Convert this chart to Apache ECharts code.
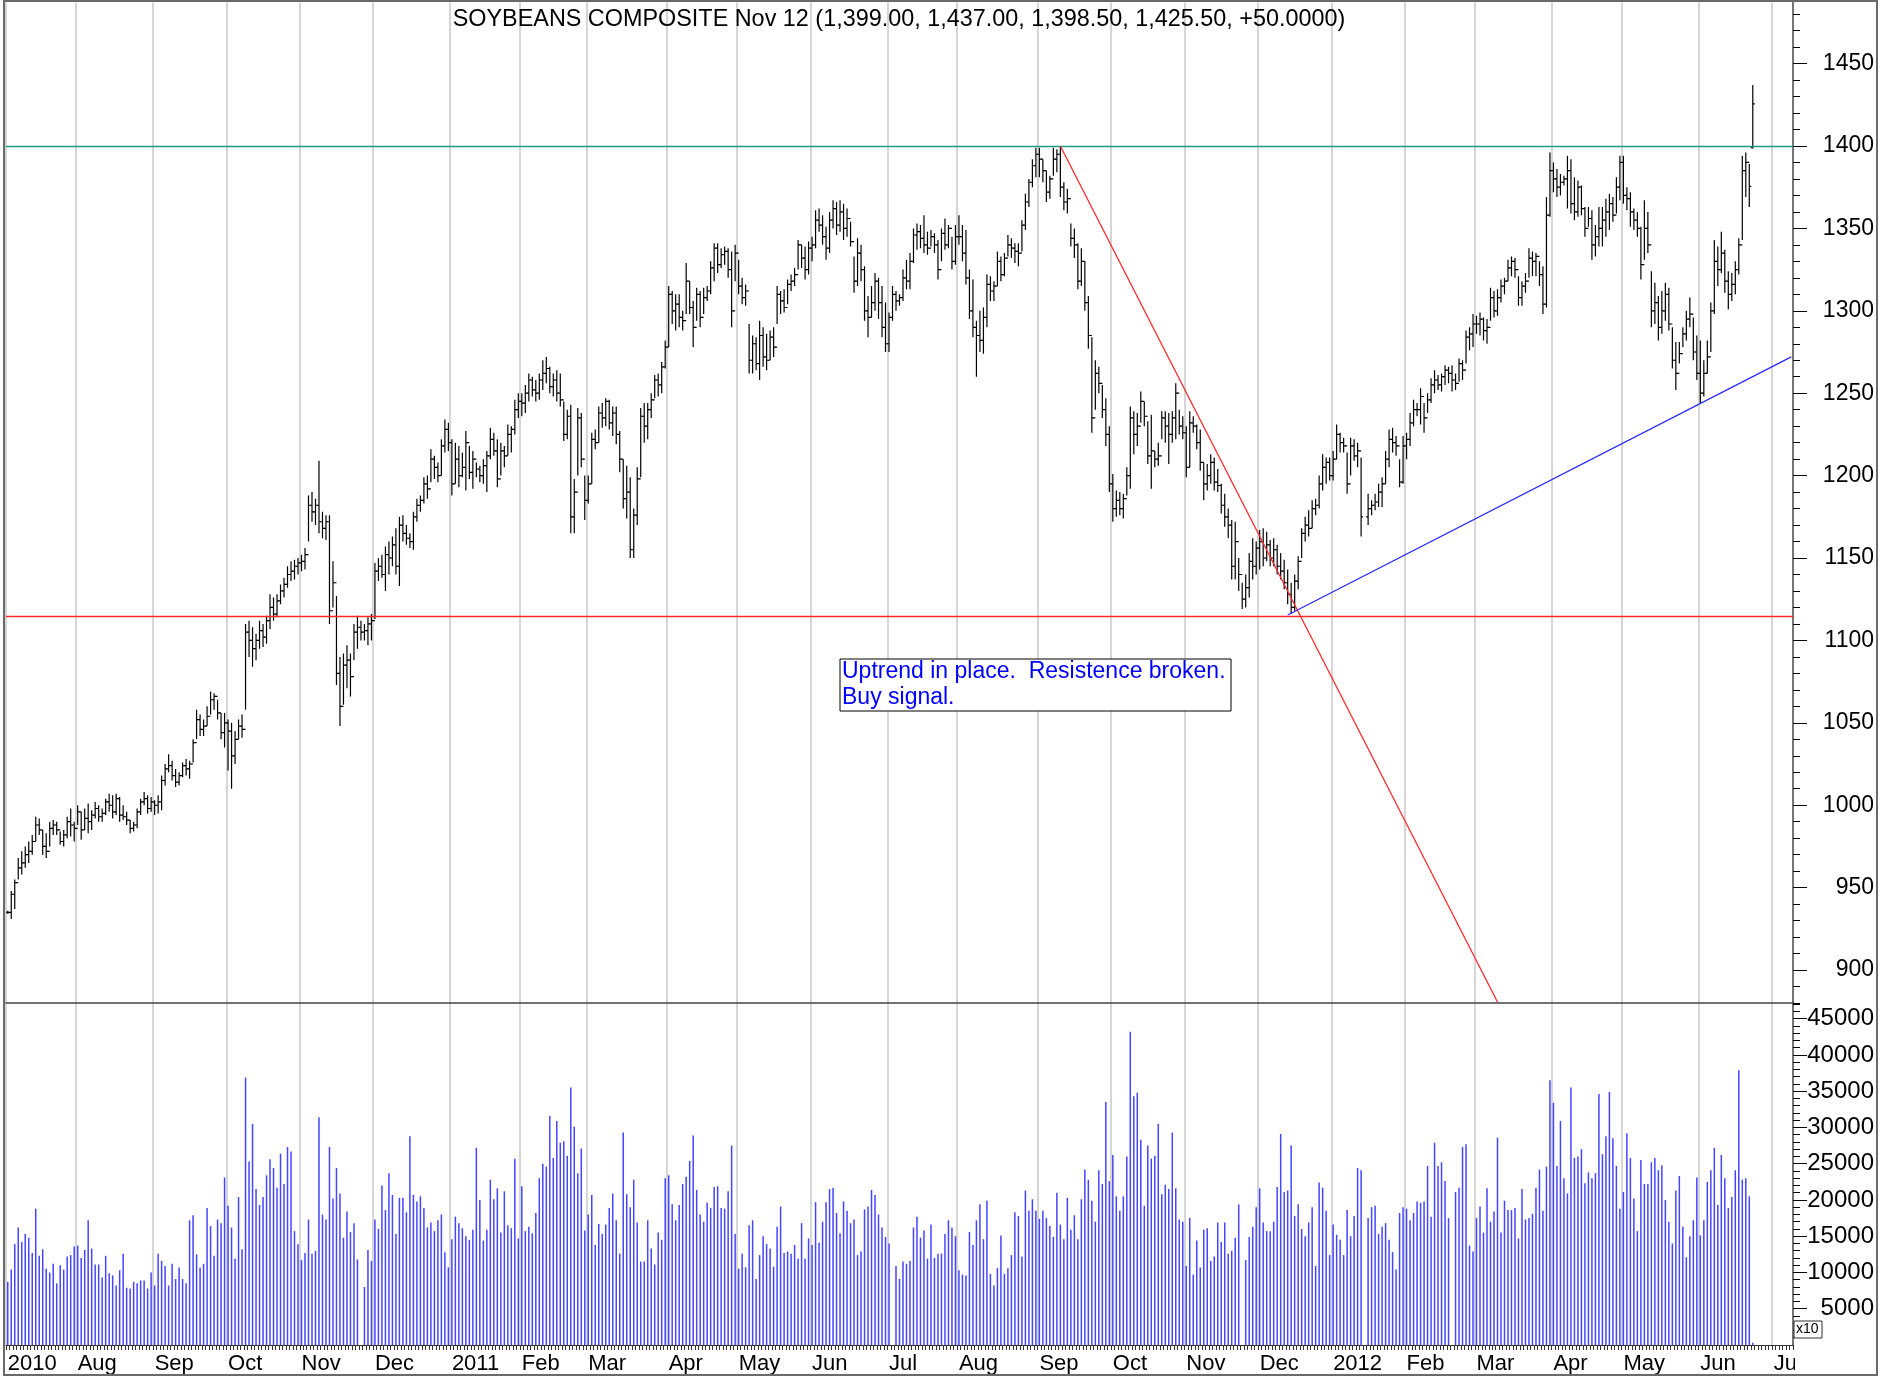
<!DOCTYPE html>
<html>
<head>
<meta charset="utf-8">
<script src="https://cdn.jsdelivr.net/npm/echarts@6/dist/echarts.min.js"></script>
<style>
  html, body { margin: 0; padding: 0; background: #fff; }
  #chart { width: 1902px; height: 1377px; }
</style>
</head>
<body>
<div id="chart"></div>
<script>
// daily bars per month: [high, low, close] (open = previous close unless a 4th value is given)
const jul10 = [[936,934,935], [948,931,946], [955,937,953], [968,955,962], [972,958,965], [975,962,970], [978,965,972], [982,970,978], [993,978,988], [992,982,985], [985,970,975], [983,968,972], [990,975,986], [991,982,988], [990,982,985], [984,976,978], [985,975,982], [993,980,990], [998,981,988], [990,978,986]];
const aug10 = [[1000,988,996], [996,979,985], [998,985,992], [1001,983,990], [997,985,994], [1002,992,998], [1000,990,993], [998,990,995], [1004,994,1002], [1007,996,1000], [1006,992,996], [1007,994,1004], [1005,990,994], [1000,991,993], [996,988,991], [991,983,986], [990,984,988], [998,986,996], [1004,994,1002], [1008,1000,1004], [1006,995,998], [1005,996,1002]];
const sep10 = [[1003,994,1000], [1006,995,1002], [1018,997,1015], [1025,1012,1022], [1031,1020,1024], [1027,1015,1018], [1022,1011,1014], [1020,1012,1018], [1026,1017,1024], [1028,1018,1022], [1027,1016,1025], [1040,1026,1038], [1058,1040,1052], [1055,1042,1046], [1052,1042,1048], [1060,1048,1054], [1069,1055,1064], [1068,1058,1066], [1064,1052,1056], [1056,1040,1044], [1056,1035,1050]];
const oct10 = [[1052,1021,1045], [1050,1010,1030], [1045,1025,1040], [1052,1040,1048], [1055,1041,1046], [1110,1058,1105], [1112,1090,1100], [1108,1084,1095], [1104,1088,1100], [1112,1095,1106], [1110,1096,1102], [1115,1098,1112], [1128,1107,1120], [1126,1112,1116], [1128,1114,1124], [1134,1122,1130], [1138,1126,1134], [1145,1132,1140], [1148,1136,1142], [1149,1137,1145], [1150,1140,1147]];
const nov10 = [[1152,1142,1148], [1156,1143,1152], [1188,1160,1182], [1190,1172,1178], [1186,1170,1182], [1209,1165,1172], [1178,1162,1168], [1176,1161,1172], [1176,1110,1118], [1148,1120,1135], [1127,1073,1080], [1090,1048,1060], [1092,1061,1085], [1097,1071,1088], [1092,1066,1078], [1110,1088,1105], [1115,1095,1108], [1112,1100,1105], [1110,1100,1106], [1114,1097,1110], [1116,1100,1112]];
const dec10 = [[1147,1113,1142], [1150,1136,1145], [1152,1138,1140], [1157,1130,1152], [1160,1140,1150], [1163,1145,1158], [1168,1140,1145], [1175,1133,1170], [1176,1160,1165], [1170,1158,1162], [1165,1156,1160], [1178,1155,1175], [1186,1172,1182], [1188,1178,1185], [1199,1183,1195], [1200,1186,1192], [1216,1196,1210], [1212,1198,1205], [1208,1196,1200], [1222,1200,1218], [1234,1214,1228], [1232,1215,1220]];
const jan11 = [[1222,1188,1195], [1220,1195,1210], [1218,1193,1200], [1214,1199,1205], [1227,1191,1220], [1218,1198,1202], [1215,1192,1210], [1208,1199,1204], [1206,1196,1200], [1210,1195,1206], [1215,1190,1212], [1229,1210,1222], [1226,1212,1215], [1222,1193,1198], [1220,1200,1215], [1218,1205,1212], [1231,1212,1225], [1230,1214,1228], [1246,1225,1240], [1250,1235,1245]];
const feb11 = [[1250,1236,1244], [1255,1238,1250], [1262,1245,1258], [1260,1248,1252], [1258,1245,1250], [1262,1246,1258], [1270,1252,1262], [1272,1256,1265], [1266,1250,1254], [1262,1248,1258], [1264,1245,1250], [1262,1242,1246], [1245,1221,1225], [1240,1222,1236], [1243,1165,1175], [1198,1165,1190], [1241,1200,1235], [1238,1205,1210], [1200,1173,1185]];
const mar11 = [[1200,1183,1195], [1226,1195,1222], [1228,1216,1220], [1242,1220,1238], [1244,1229,1235], [1247,1230,1245], [1246,1228,1232], [1242,1224,1238], [1242,1219,1225], [1227,1202,1210], [1210,1180,1186], [1206,1174,1190], [1199,1150,1155], [1180,1150,1176], [1205,1170,1198], [1241,1199,1236], [1244,1220,1230], [1244,1222,1240], [1250,1235,1246], [1261,1247,1258], [1262,1248,1255], [1269,1250,1266], [1282,1265,1278]];
const apr11 = [[1315,1278,1310], [1312,1292,1300], [1310,1288,1304], [1310,1290,1296], [1300,1288,1294], [1329,1298,1318], [1318,1298,1302], [1306,1278,1290], [1314,1294,1310], [1312,1290,1296], [1314,1298,1308], [1315,1306,1312], [1330,1310,1326], [1341,1318,1338], [1341,1323,1328], [1338,1326,1334], [1339,1328,1336], [1338,1320,1325], [1336,1290,1300], [1340,1318,1335]];
const may11 = [[1331,1310,1315], [1320,1304,1308], [1316,1303,1312], [1292,1262,1270], [1285,1262,1280], [1284,1264,1268], [1294,1258,1285], [1290,1266,1272], [1286,1264,1270], [1288,1270,1284], [1290,1272,1278], [1315,1292,1310], [1312,1298,1306], [1313,1299,1302], [1319,1304,1316], [1322,1312,1318], [1326,1315,1322], [1343,1325,1340], [1340,1326,1332], [1339,1319,1325], [1342,1322,1338]];
const jun11 = [[1345,1330,1340], [1361,1338,1355], [1362,1348,1352], [1358,1340,1345], [1351,1331,1338], [1360,1335,1355], [1367,1350,1362], [1366,1346,1352], [1367,1348,1360], [1365,1343,1350], [1362,1345,1356], [1354,1339,1342], [1333,1311,1318], [1344,1315,1335], [1340,1318,1325], [1327,1294,1300], [1309,1284,1296], [1315,1296,1305], [1323,1300,1318], [1320,1295,1305], [1315,1284,1290], [1305,1275,1280]];
const jul11 = [[1299,1275,1296], [1315,1294,1310], [1312,1300,1306], [1310,1303,1308], [1325,1306,1320], [1331,1313,1318], [1335,1313,1330], [1350,1329,1346], [1353,1337,1348], [1352,1338,1344], [1358,1335,1340], [1348,1334,1338], [1349,1339,1345], [1347,1335,1340], [1343,1319,1325], [1350,1330,1347], [1356,1337,1340], [1352,1338,1350], [1345,1325,1330], [1352,1328,1345]];
const aug11 = [[1358,1340,1345], [1352,1330,1335], [1349,1316,1320], [1325,1295,1300], [1319,1284,1290], [1294,1260,1285], [1300,1275,1282], [1302,1274,1296], [1322,1290,1316], [1321,1306,1312], [1318,1306,1315], [1336,1315,1330], [1333,1318,1322], [1335,1321,1332], [1346,1333,1340], [1344,1332,1338], [1341,1329,1336], [1341,1327,1335], [1355,1336,1352], [1371,1349,1366], [1380,1363,1378], [1392,1375,1388], [1399,1381,1395]];
const sep11 = [[1399,1381,1392], [1392,1378,1385], [1385,1366,1372], [1382,1368,1380], [1399,1382,1392], [1398,1384,1395], [1400,1369,1375], [1378,1361,1366], [1374,1359,1368], [1353,1339,1344], [1350,1332,1340], [1341,1313,1318], [1338,1315,1330], [1330,1300,1305], [1309,1277,1285], [1284,1226,1235], [1270,1240,1262], [1266,1250,1256], [1255,1235,1240], [1247,1218,1225], [1230,1190,1195]];
const oct11 = [[1201,1172,1180], [1191,1175,1185], [1190,1176,1180], [1189,1174,1186], [1205,1188,1200], [1242,1192,1235], [1239,1213,1225], [1238,1218,1230], [1251,1232,1245], [1245,1230,1236], [1233,1207,1212], [1237,1192,1215], [1215,1205,1210], [1220,1206,1212], [1239,1222,1235], [1239,1220,1230], [1238,1207,1225], [1239,1220,1235], [1256,1222,1250], [1240,1225,1230], [1236,1222,1226]];
const nov11 = [[1230,1199,1205], [1239,1205,1232], [1236,1226,1230], [1231,1216,1220], [1228,1203,1208], [1208,1185,1195], [1207,1191,1200], [1213,1195,1208], [1211,1191,1196], [1204,1190,1194], [1195,1177,1182], [1189,1169,1175], [1180,1162,1170], [1173,1137,1145], [1172,1137,1160], [1150,1130,1140], [1135,1119,1125], [1140,1120,1132], [1153,1126,1148], [1162,1137,1145], [1160,1140,1156]];
const dec11 = [[1167,1143,1160], [1168,1145,1150], [1166,1148,1158], [1161,1145,1150], [1162,1145,1155], [1158,1140,1145], [1153,1137,1142], [1149,1131,1135], [1143,1122,1128], [1135,1116,1120], [1140,1118,1136], [1151,1131,1148], [1168,1150,1165], [1175,1160,1170], [1179,1163,1168], [1185,1168,1180], [1186,1176,1182], [1200,1180,1195], [1213,1191,1205], [1211,1195,1208], [1211,1197,1200]];
const jan12 = [[1215,1197,1210], [1231,1210,1225], [1226,1214,1220], [1223,1214,1218], [1214,1189,1195], [1223,1200,1218], [1222,1209,1212], [1220,1205,1215], [1211,1163,1175], null, [1189,1170,1180], [1185,1176,1182], [1189,1179,1184], [1195,1181,1190], [1199,1181,1195], [1215,1195,1210], [1228,1205,1222], [1229,1214,1220], [1224,1212,1218], [1210,1193,1196], [1224,1195,1218]];
const feb12 = [[1226,1210,1222], [1238,1218,1232], [1246,1230,1240], [1244,1236,1240], [1253,1231,1248], [1244,1226,1235], [1250,1238,1246], [1259,1244,1255], [1264,1250,1258], [1261,1252,1255], [1262,1251,1260], [1267,1255,1264], [1266,1256,1262], [1267,1251,1258], [1262,1252,1256], [1271,1257,1268], [1270,1258,1264], [1288,1268,1284], [1290,1276,1286], [1298,1278,1292]];
const mar12 = [[1297,1286,1292], [1299,1285,1295], [1296,1282,1288], [1295,1280,1290], [1314,1294,1308], [1312,1296,1300], [1313,1297,1308], [1319,1305,1315], [1320,1310,1318], [1331,1318,1326], [1333,1321,1330], [1332,1320,1325], [1321,1303,1308], [1318,1303,1315], [1323,1311,1318], [1338,1320,1332], [1336,1321,1330], [1335,1321,1333], [1330,1315,1322], [1327,1298,1304], [1369,1302,1358], [1396,1357,1385]];
const apr12 = [[1390,1372,1380], [1386,1369,1375], [1383,1370,1378], [1382,1376,1380], [1394,1362,1385], [1392,1359,1365], [1381,1355,1360], [1379,1357,1375], [1376,1358,1362], [1363,1345,1350], [1363,1351,1356], [1361,1331,1340], [1352,1333,1345], [1363,1339,1350], [1363,1339,1355], [1368,1345,1360], [1371,1349,1365], [1369,1354,1358], [1381,1359,1375], [1394,1367,1390]];
const may12 = [[1394,1365,1370], [1375,1361,1368], [1372,1351,1360], [1362,1349,1355], [1360,1345,1350], [1351,1319,1328], [1367,1331,1350], [1360,1335,1340], [1324,1290,1300], [1317,1292,1305], [1309,1282,1290], [1312,1286,1300], [1317,1294,1310], [1314,1288,1292], [1290,1265,1270], [1281,1252,1262], [1281,1268,1274], [1290,1278,1286], [1300,1282,1295], [1308,1290,1298], [1296,1270,1275], [1285,1258,1262]];
const jun12 = [[1282,1244,1250], [1270,1248,1262], [1282,1262,1272], [1305,1275,1300], [1343,1298,1330], [1339,1315,1325], [1348,1323,1335], [1337,1311,1318], [1324,1301,1310], [1323,1306,1316], [1330,1310,1325], [1344,1322,1340], [1394,1343,1385], [1396,1369,1390], [1389,1363,1375.5], [1437,1398.5,1425.5,1399]];

// daily volume per month
const vJul10 = [8700, 10400, 13900, 16200, 14200, 15300, 14800, 12700, 18800, 12300, 13200, 10500, 10000, 11200, 8500, 11000, 10400, 12200, 12400, 13600];
const vAug10 = [13700, 12000, 13100, 17200, 13300, 11100, 11100, 9300, 12300, 9900, 9600, 8200, 10300, 12600, 7900, 7800, 8700, 8500, 8900, 8900, 7800, 10000];
const vSep10 = [8200, 12600, 11600, 10900, 8200, 11200, 9100, 10700, 9100, 8500, 17200, 17900, 12500, 10700, 11200, 18900, 16400, 12300, 17300, 16800, 23100];
const vOct10 = [19200, 16200, 11900, 20400, 13200, 36900, 25300, 30500, 21500, 19300, 20400, 23400, 25600, 24400, 21700, 26400, 22200, 27300, 26700, 15700, 13900];
const vNov10 = [11700, 12700, 17300, 12600, 13000, 31400, 18000, 17300, 27300, 20200, 24400, 20900, 14800, 18400, 15600, 16800, 11800, null, 8000, 13100, 11600];
const vDec10 = [17300, 16000, 22000, 18600, 23700, 20700, 15300, 20300, 20300, 18300, 28800, 20700, 19800, 20500, 18900, 16200, 16900, 15700, 17200, 18000, 12800, 10700];
const vJan11 = [14600, 17700, 16800, 16100, 15000, 14500, 15900, 27200, 20000, 14400, 15900, 22800, 20100, 21600, 15500, 21200, 16500, 16100, 25700, 14700];
const vFeb11 = [21900, 15700, 16300, 15400, 18200, 23000, 25000, 24600, 31600, 25800, 30900, 27900, 28100, 26100, 35500, 30100, 23700, 27100, 15800];
const vMar11 = [18000, 20700, 13800, 16700, 15300, 16600, 18900, 20900, 17200, 12600, 29300, 20800, 19000, 22800, 16900, 11500, 11500, 17200, 13300, 11100, 15500, 14500, 23000];
const vApr11 = [23400, 19400, 17200, 19300, 22200, 23200, 25400, 28900, 21400, 18000, 17000, 19600, 18900, 21800, 21900, 18900, 18800, 21200, 27500, 15300];
const vMay11 = [10500, 12600, 10700, 16500, 17200, 9100, 12400, 15000, 13900, 13300, 10800, 16300, 19100, 12700, 12900, 12600, 13800, 11900, 16800, 11900, 14700];
const vJun11 = [13800, 19700, 14100, 17000, 19700, 21500, 21700, 18200, 15400, 19800, 18500, 16800, 17300, 12400, 12900, 18700, 19100, 21400, 20700, 18000, 16200, 14900];
const vJul11 = [14000, null, 10900, 9100, 11500, 11200, 11600, 16200, 17700, 14800, 15800, 11900, 16600, 12000, 12600, 12600, 15300, 17200, 16200, 15000];
const vAug11 = [10300, 9700, 9600, 15600, 13800, 17200, 19400, 14600, 19900, 9800, 8200, 10600, 15100, 9800, 10600, 12400, 18300, 17800, 12200, 21300, 18500, 20100, 18500];
const vSep11 = [17400, 18500, 17500, 16400, 14900, 21000, 16600, 14600, 20300, 15900, 17900, 14600, 20100, 24200, 22800, 19900, 17000, 24100, 22200, 33500, 22600];
const vOct11 = [26200, 20500, 18500, 20500, 26000, 43200, 34300, 34800, 28300, 19200, 27500, 25700, 26100, 30500, 20800, 22100, 21500, 29300, 21600, 17300, 17000];
const vNov11 = [10900, 17500, 9700, 14400, 10700, 15900, 16100, 11600, 12200, 16900, 14200, 16900, 12600, 13000, 14800, 19400, null, 11700, 14900, 16300, 19000];
const vDec11 = [21600, 16900, 15700, 15700, 17000, 21800, 29100, 21100, 21300, 27500, 17800, 19400, 16000, 15000, 16900, 19000, 10900, 22400, 21700, 18500, 12400];
const vJan12 = [16600, 15200, 14500, 12400, 18600, 15000, 17800, 24400, 24100, null, 17500, 19000, 19200, 15300, 16300, 16800, 14500, 12800, 10400, 18200, 19000];
const vFeb12 = [18800, 17200, 18200, 19800, 19600, 19800, 24700, 17700, 27900, 24700, 25200, 22600, 17500, null, 21100, 21700, 27300, 27700, 13700, 12900];
const vMar12 = [17500, 19100, 15500, 21600, 17000, 18400, 28600, 15500, 19900, 18600, 18600, 18900, 14700, 21500, 17300, 17500, 18100, 21700, 24200, 18500, 24600, 36500];
const vApr12 = [33400, 24700, 30900, 23000, 20900, 35500, 25800, 26000, 27000, 22300, 23800, 23000, 23700, 34600, 26300, 28800, 34900, 28500, 24700, 18800];
const vMay12 = [21100, 29200, 25800, 20200, 15700, 25500, 22200, 22200, 25200, 25800, 24100, 24800, 20000, 17000, 14000, 21300, 23300, 16300, 12100, 15000, 17200, 23100];
const vJun12 = [15100, 17200, 22500, 24100, 27200, 19300, 26200, 23000, 18900, 20400, 24100, 37900, 22800, 23000, 20500, 300];

const priceTicks = [900, 950, 1000, 1050, 1100, 1150, 1200, 1250, 1300, 1350, 1400, 1450];
const volTicks = [5000, 10000, 15000, 20000, 25000, 30000, 35000, 40000, 45000];
const monthNames = ['Jan', 'Feb', 'Mar', 'Apr', 'May', 'Jun', 'Jul', 'Aug', 'Sep', 'Oct', 'Nov', 'Dec'];
const holidays = ['2010-07-05', '2010-09-06', '2010-11-25', '2010-12-24', '2011-01-17', '2011-02-21', '2011-04-22', '2011-05-30', '2011-07-04', '2011-09-05', '2011-11-24', '2011-12-26', '2012-01-02', '2012-02-20', '2012-04-06', '2012-05-28', '2012-07-04'];

const months = [
    ['2010-07', jul10, vJul10], ['2010-08', aug10, vAug10], ['2010-09', sep10, vSep10],
    ['2010-10', oct10, vOct10], ['2010-11', nov10, vNov10], ['2010-12', dec10, vDec10],
    ['2011-01', jan11, vJan11], ['2011-02', feb11, vFeb11], ['2011-03', mar11, vMar11],
    ['2011-04', apr11, vApr11], ['2011-05', may11, vMay11], ['2011-06', jun11, vJun11],
    ['2011-07', jul11, vJul11], ['2011-08', aug11, vAug11], ['2011-09', sep11, vSep11],
    ['2011-10', oct11, vOct11], ['2011-11', nov11, vNov11], ['2011-12', dec11, vDec11],
    ['2012-01', jan12, vJan12], ['2012-02', feb12, vFeb12], ['2012-03', mar12, vMar12],
    ['2012-04', apr12, vApr12], ['2012-05', may12, vMay12], ['2012-06', jun12, vJun12]
];

// trading days for the category axis
const days = [];
let d = new Date(Date.UTC(2010, 6, 2));
const last = new Date(Date.UTC(2012, 6, 10));
while (d <= last) {
    const s = d.toISOString().slice(0, 10);
    const wd = d.getUTCDay();
    if (wd !== 0 && wd !== 6 && holidays.indexOf(s) < 0) days.push(s);
    d.setUTCDate(d.getUTCDate() + 1);
}

// put each month's bars on that month's trading days
const bars = [];
const vols = days.map(function () { return null; });
let prevClose = null;
months.forEach(function (m) {
    const idx = [];
    days.forEach(function (s, i) { if (s.slice(0, 7) === m[0]) idx.push(i); });
    m[1].forEach(function (b, k) {
        if (!b || k >= idx.length) return;
        const open = b.length > 3 ? b[3] : (prevClose === null ? b[2] : prevClose);
        bars.push([idx[k], open, b[0], b[1], b[2]]);
        prevClose = b[2];
    });
    m[2].forEach(function (v, k) {
        if (k < idx.length) vols[idx[k]] = v;
    });
});

const isMonthStart = function (i) {
    return i === 0 || days[i].slice(5, 7) !== days[i - 1].slice(5, 7);
};

const minorPrice = [];
for (let p = 880; p <= 1480; p += 10) minorPrice.push(p);
const minorVol = [];
for (let v = 1000; v <= 47000; v += 1000) minorVol.push(v);

const font = 'Liberation Sans, Arial, sans-serif';
const gridColor = '#c8c8c8';
const plain = function (v) { return String(v); };

/*OHLC bar*/
const renderBar = function (params, api) {
    const x = api.value(0);
    const o = api.coord([x, api.value(1)]);
    const h = api.coord([x, api.value(2)]);
    const l = api.coord([x, api.value(3)]);
    const c = api.coord([x, api.value(4)]);
    const style = { stroke: '#000', lineWidth: 1.2 };
    return {
        type: 'group',
        children: [
            { type: 'line', shape: { x1: h[0], y1: h[1], x2: l[0], y2: l[1] }, style: style },
            { type: 'line', shape: { x1: o[0] - 2, y1: o[1], x2: o[0], y2: o[1] }, style: style },
            { type: 'line', shape: { x1: c[0], y1: c[1], x2: c[0] + 2, y2: c[1] }, style: style }
        ]
    };
};

let myChart = echarts.init(document.getElementById('chart'));

let option = {
    animation: false,
    backgroundColor: '#fff',
    grid: [
        { left: 6, right: 109, top: 2.6, height: 1000.4 },
        { left: 6, right: 109, top: 1002, height: 343 }
    ],
    xAxis: [
        {
            type: 'category', gridIndex: 0, data: days, boundaryGap: true,
            axisLine: { show: true, lineStyle: { color: '#444', width: 1.5 } },
            axisTick: { show: false },
            axisLabel: { show: false },
            splitLine: { show: true, interval: function (i) { return isMonthStart(i); }, lineStyle: { color: gridColor, width: 1.5 } }
        },
        {
            type: 'category', gridIndex: 1, data: days, boundaryGap: true,
            axisLine: { show: true, lineStyle: { color: '#333', width: 1 } },
            axisTick: { show: true, interval: 0, length: 5, lineStyle: { color: '#333' } },
            axisLabel: {
                interval: function (i) { return isMonthStart(i); },
                formatter: function (value, index) {
                    const m = +value.slice(5, 7);
                    return (m === 1 || index === 0) ? value.slice(0, 4) : monthNames[m - 1];
                },
                align: 'left', margin: 8, fontSize: 22, color: '#000', fontFamily: font
            },
            splitLine: { show: true, interval: function (i) { return isMonthStart(i); }, lineStyle: { color: gridColor, width: 1.5 } }
        }
    ],
    yAxis: [
        {
            type: 'value', gridIndex: 0, position: 'right', min: 880, max: 1487,
            axisLine: { show: true, lineStyle: { color: '#555', width: 1.5 } },
            axisTick: { show: true, customValues: priceTicks, length: 14, lineStyle: { color: '#000' } },
            axisLabel: { customValues: priceTicks, formatter: plain, align: 'right', margin: 81, fontSize: 23, color: '#000', fontFamily: font },
            splitLine: { show: false }
        },
        {
            type: 'value', gridIndex: 0, position: 'right', min: 880, max: 1487,
            axisLine: { show: false },
            axisTick: { show: true, customValues: minorPrice, length: 7, lineStyle: { color: '#000' } },
            axisLabel: { show: false },
            splitLine: { show: false }
        },
        {
            type: 'value', gridIndex: 1, position: 'right', min: 0, max: 47300,
            axisLine: { show: true, lineStyle: { color: '#555', width: 1.5 } },
            axisTick: { show: true, customValues: volTicks, length: 14, lineStyle: { color: '#000' } },
            axisLabel: { customValues: volTicks, formatter: plain, align: 'right', margin: 81, fontSize: 24, color: '#000', fontFamily: font },
            splitLine: { show: false }
        },
        {
            type: 'value', gridIndex: 1, position: 'right', min: 0, max: 47300,
            axisLine: { show: false },
            axisTick: { show: true, customValues: minorVol, length: 7, lineStyle: { color: '#000' } },
            axisLabel: { show: false },
            splitLine: { show: false }
        }
    ],
    series: [
        {
            type: 'custom', name: 'price', xAxisIndex: 0, yAxisIndex: 0,
            renderItem: renderBar, encode: { x: 0, y: [1, 2, 3, 4] },
            data: bars, clip: true, silent: true
        },
        {
            type: 'line', xAxisIndex: 0, yAxisIndex: 0, data: [], silent: true,
            markLine: {
                symbol: 'none', silent: true, label: { show: false },
                lineStyle: { type: 'solid', width: 1.3 },
                data: [
                    { yAxis: 1400, lineStyle: { color: '#1f9a8c' } },
                    { yAxis: 1114.5, lineStyle: { color: '#ff2a2a' } },
                    [{ coord: [301, 1400], lineStyle: { color: '#ff2a2a' } }, { coord: [426, 880.6] }],
                    [{ coord: [366, 1115.4], lineStyle: { color: '#2a2aff' } }, { coord: [510, 1272] }]
                ]
            }
        },
        {
            type: 'bar', name: 'volume', xAxisIndex: 1, yAxisIndex: 2,
            data: vols, barWidth: 1.5, itemStyle: { color: '#4545ff' }, silent: true
        }
    ],
    graphic: [
        {
            type: 'text', x: 899, y: 8, z: 50,
            style: {
                text: 'SOYBEANS COMPOSITE Nov 12 (1,399.00, 1,437.00, 1,398.50, 1,425.50, +50.0000)',
                font: '23.4px ' + font, fill: '#000', align: 'center'
            }
        },
        {
            type: 'rect', shape: { x: 840, y: 659, width: 391, height: 52 }, z: 50,
            style: { fill: '#fff', stroke: '#000', lineWidth: 1 }
        },
        {
            type: 'text', x: 842, y: 659, z: 51,
            style: {
                text: 'Uptrend in place.  Resistence broken.\nBuy signal.',
                font: '23px ' + font, fill: '#0000ff', lineHeight: 26
            }
        },
        {
            type: 'rect', shape: { x: 1794, y: 1321, width: 28, height: 17 }, z: 50,
            style: { fill: '#fff', stroke: '#333', lineWidth: 1 }
        },
        {
            type: 'text', x: 1796, y: 1322, z: 51,
            style: { text: 'x10', font: '14px ' + font, fill: '#000' }
        },
        {
            type: 'rect', shape: { x: 1795, y: 1349, width: 80, height: 25 }, z: 50,
            style: { fill: '#fff' }
        },
        {
            type: 'rect', shape: { x: 4, y: 1, width: 1873, height: 1374 }, z: 60,
            style: { fill: 'none', stroke: '#6a6a6a', lineWidth: 2 }
        }
    ]
};

myChart.setOption(option);
</script>
</body>
</html>
